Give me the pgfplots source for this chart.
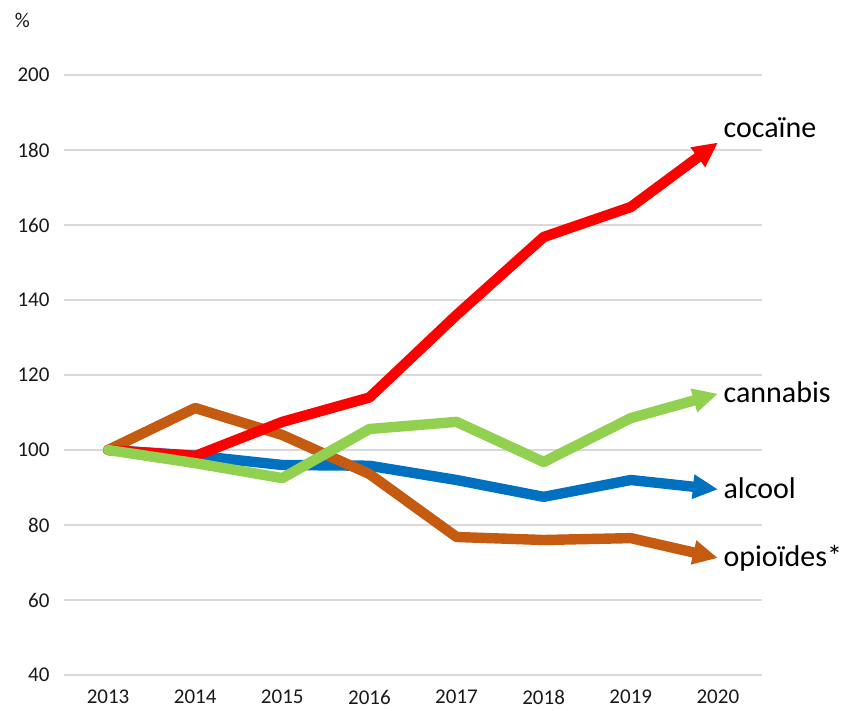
\documentclass[border=0pt]{standalone}
\usepackage{pgfplots}
\pgfplotsset{compat=1.18}
\usepackage{fontspec}
\setmainfont{Carlito}
\usetikzlibrary{arrows.meta}
\definecolor{cRed}{HTML}{FF0000}
\definecolor{cGreen}{HTML}{92D050}
\definecolor{cBlue}{HTML}{0070C0}
\definecolor{cOrange}{HTML}{C55A11}
\definecolor{cGrid}{HTML}{D9D9D9}
\begin{document}
\begin{tikzpicture}
\begin{axis}[
  scale only axis,
  width=348.5pt, height=300pt,
  xmin=2012.5, xmax=2020.5,
  ymin=40, ymax=200,
  ytick={40,60,...,200},
  xtick={2013,...,2020},
  axis line style={draw=none},
  ymajorgrids,
  grid style={cGrid, line width=0.8pt},
  major tick length=0pt,
  clip=false,
  /pgf/number format/assume math mode=true,
  /pgf/number format/1000 sep={},
  tick label style={font=\fontsize{10.5}{12}\selectfont, text=black!90},
  yticklabel style={xshift=-4pt},
  xticklabel style={yshift=-4pt},
  every axis plot/.append style={line width=5.2pt, line join=round, line cap=round},
]
\addplot[cBlue, -{Triangle[length=12.5pt,width=11.5pt]}] coordinates {
 (2013,100) (2014,98.5) (2015,96) (2016,95.8) (2017,92) (2018,87.5) (2019,92) (2020,89.5)};
\addplot[cOrange, -{Triangle[length=12.5pt,width=11.5pt]}] coordinates {
 (2013,100) (2014,111.2) (2015,104) (2016,93.6) (2017,76.8) (2018,76) (2019,76.5) (2020,71.2)};
\addplot[cRed, -{Triangle[length=12.5pt,width=11.5pt]}] coordinates {
 (2013,100) (2014,98.4) (2015,107.5) (2016,114) (2017,136) (2018,156.8) (2019,164.8) (2020,182)};
\addplot[cGreen, -{Triangle[length=12.5pt,width=11.5pt]}] coordinates {
 (2013,100) (2014,96.5) (2015,92.5) (2016,105.6) (2017,107.5) (2018,96.8) (2019,108.5) (2020,115)};
\node[anchor=west, font=\fontsize{15}{17}\selectfont, inner sep=0pt] at (axis cs:2020.06,185.9) {cocaïne};
\node[anchor=west, font=\fontsize{15}{17}\selectfont, inner sep=0pt] at (axis cs:2020.06,115.5) {cannabis};
\node[anchor=west, font=\fontsize{15}{17}\selectfont, inner sep=0pt] at (axis cs:2020.06,89.9) {alcool};
\node[anchor=west, font=\fontsize{15}{17}\selectfont, inner sep=0pt] at (axis cs:2020.06,71.2) {opioïdes*};
\node[font=\fontsize{10.5}{12}\selectfont, text=black!90] at ([xshift=-21pt,yshift=27.5pt]rel axis cs:0,1) {\%};
\end{axis}
\pgfresetboundingbox
\path[use as bounding box] ([xshift=-32.25pt,yshift=-18pt]current axis.south west) rectangle ([xshift=44.75pt,yshift=37.5pt]current axis.north east);
\end{tikzpicture}
\end{document}
